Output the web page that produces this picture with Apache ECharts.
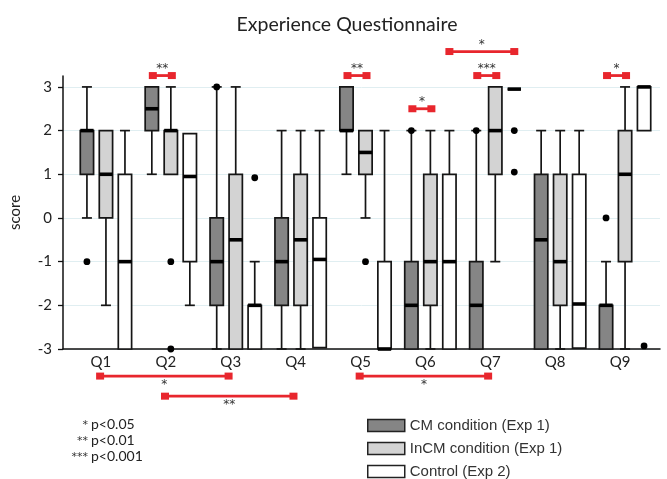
<!DOCTYPE html>
<html><head><meta charset="utf-8">
<script src="https://cdn.jsdelivr.net/npm/echarts@6/dist/echarts.min.js"></script>
<style>html,body{margin:0;padding:0;background:#fff}#c{width:667px;height:479px}</style>
</head><body><div id="c"></div>
<script>
// ---------------- data ----------------
const questions = ['Q1','Q2','Q3','Q4','Q5','Q6','Q7','Q8','Q9'];
const groupNames = ['CM condition (Exp 1)','InCM condition (Exp 1)','Control (Exp 2)'];
// each row: [min, Q1, median, Q3, max]
const cmStats = [
  [0, 1, 2, 2, 3],
  [1, 2, 2.5, 3, 3],
  [-3, -2, -1, 0, 3],
  [-3, -2, -1, 0, 2],
  [1, 2, 2, 3, 3],
  [-3, -3, -2, -1, 2],
  [-3, -3, -2, -1, 2],
  [-3, -3, -0.5, 1, 2],
  [-3, -3, -2, -2, -1]
];
const incmStats = [
  [-2, 0, 1, 2, 2],
  [1, 1, 2, 2, 3],
  [-3, -3, -0.5, 1, 3],
  [-3, -2, -0.5, 1, 2],
  [0, 1, 1.5, 2, 2],
  [-3, -2, -1, 1, 2],
  [-1, 1, 2, 3, 3],
  [-3, -2, -1, 1, 2],
  [-3, -1, 1, 2, 3]
];
const controlStats = [
  [-3, -3, -1, 1, 2],
  [-2, -1, 0.95, 1.93, 1.93],
  [-3, -3, -2, -2, -1],
  [-2.97, -2.97, -0.95, 0, 2],
  [-3, -3, -3, -1, 2],
  [-3, -3, -1, 1, 2],
  [2.95, 2.95, 2.95, 2.95, 2.95],
  [-2.98, -2.98, -1.97, 1, 2],
  [2, 2, 3, 3, 3]
];
// outliers: [question index, value]
const cmOutliers = [[0, -1], [2, 3], [5, 2], [6, 2], [8, 0]];
const incmOutliers = [[1, -1], [1, -3], [4, -1]];
const controlOutliers = [[2, 0.92], [6, 2], [6, 1.05], [8, -2.93]];
// significance: CM vs InCM inside one question: [question index, stars]
const withinTests = [[1, '**'], [4, '**'], [5, '*'], [6, '***'], [8, '*']];
// Control vs Control across questions: [question a, question b, stars]
const controlTests = [[5, 6, '*']];
// CM across questions: [question a, question b, stars]
const acrossTests = [[0, 2, '*'], [1, 3, '**'], [4, 6, '*']];
const yTicks = [-3, -2, -1, 0, 1, 2, 3];
const pStars = ['*', '**', '***'];
const pTexts = ['p<0.05', 'p<0.01', 'p<0.001'];

// ---------------- layout / style ----------------
const Y_MIN = -3, Y_MAX = 3.25;
const GROUP_STEP = 0.293;   // offset between boxes in a group, fraction of band
const BOX_W = 0.205;        // box width, fraction of band
const RED = '#e8262d';
const STAR_COLOR = '#333';
const STAR_FONT = '12px "DejaVu Sans"';
const withinLevel = q => (q === 5 ? 2.5 : 3.26);
const controlLevel = 3.81;
const acrossLevels = [-3.62, -4.08, -3.62];
const FONT = 'Lato';

const fills = ['#858585', '#d3d3d3', '#ffffff'];
const statsList = [cmStats, incmStats, controlStats];
const outList = [cmOutliers, incmOutliers, controlOutliers];

function boxRenderer(k) {
  return function (params, api) {
    const i = api.value(0);
    const band = api.size([1, 0])[0];
    const cx = api.coord([i, 0])[0] + (k - 1) * band * GROUP_STEP;
    const w = band * BOX_W;
    const Y = v => api.coord([i, v])[1];
    const mn = api.value(1), q1 = api.value(2), md = api.value(3), q3 = api.value(4), mx = api.value(5);
    const ls = { stroke: '#151515', lineWidth: 1.7 };
    const ch = [];
    if (mx > q3) {
      ch.push({ type: 'line', shape: { x1: cx, y1: Y(q3), x2: cx, y2: Y(mx) }, style: ls });
      ch.push({ type: 'line', shape: { x1: cx - 5, y1: Y(mx), x2: cx + 5, y2: Y(mx) }, style: ls });
    }
    if (mn < q1) {
      ch.push({ type: 'line', shape: { x1: cx, y1: Y(q1), x2: cx, y2: Y(mn) }, style: ls });
      ch.push({ type: 'line', shape: { x1: cx - 5, y1: Y(mn), x2: cx + 5, y2: Y(mn) }, style: ls });
    }
    ch.push({ type: 'rect', shape: { x: cx - w / 2, y: Y(q3), width: w, height: Y(q1) - Y(q3) },
      style: { fill: fills[k], stroke: '#151515', lineWidth: 1.7 } });
    ch.push({ type: 'line', shape: { x1: cx - w / 2, y1: Y(md), x2: cx + w / 2, y2: Y(md) },
      style: { stroke: '#000', lineWidth: 3.6 } });
    return { type: 'group', children: ch };
  };
}

function bracket(x1, x2, y, stars, below) {
  const ch = [
    { type: 'line', shape: { x1: x1, y1: y, x2: x2, y2: y }, style: { stroke: RED, lineWidth: 2.8 } },
    { type: 'rect', shape: { x: x1 - 4, y: y - 3.5, width: 8, height: 7 }, style: { fill: RED } },
    { type: 'rect', shape: { x: x2 - 4, y: y - 3.5, width: 8, height: 7 }, style: { fill: RED } },
    { type: 'text', x: (x1 + x2) / 2, y: below ? y + 9 : y - 7,
      style: { text: stars, fill: STAR_COLOR, font: STAR_FONT, align: 'center', verticalAlign: 'middle' } }
  ];
  return { type: 'group', children: ch };
}

const series = [];
statsList.forEach((st, k) => {
  series.push({
    type: 'custom', name: groupNames[k], xAxisIndex: 1, yAxisIndex: 1,
    itemStyle: { color: fills[k] },
    data: st.map((s, i) => [i].concat(s)),
    encode: { x: 0, y: [1, 2, 3, 4, 5] },
    renderItem: boxRenderer(k), z: 3
  });
});
// outliers
const outData = [];
outList.forEach((lst, k) => lst.forEach(o => outData.push([o[0], o[1], k])));
series.push({
  type: 'custom', name: 'outliers', xAxisIndex: 1, yAxisIndex: 1, clip: false, z: 4,
  data: outData, encode: { x: 0, y: 1 },
  renderItem: function (params, api) {
    const band = api.size([1, 0])[0];
    const p = api.coord([api.value(0), api.value(1)]);
    return { type: 'circle', shape: { cx: p[0] + (api.value(2) - 1) * band * GROUP_STEP, cy: p[1], r: 3.4 }, style: { fill: '#000' } };
  }
});
// within-question brackets (CM vs InCM)
series.push({
  type: 'custom', name: 'within', xAxisIndex: 1, yAxisIndex: 1, clip: false, z: 5,
  data: withinTests.map(t => [t[0], withinLevel(t[0])]), encode: { x: 0, y: 1 },
  renderItem: function (params, api) {
    const band = api.size([1, 0])[0];
    const p = api.coord([api.value(0), api.value(1)]);
    return bracket(p[0] - band * GROUP_STEP + 1, p[0] + 1, p[1], withinTests[params.dataIndex][1], false);
  }
});
// control across questions (top)
series.push({
  type: 'custom', name: 'controlAcross', xAxisIndex: 1, yAxisIndex: 1, clip: false, z: 5,
  data: controlTests.map(t => [t[0], t[1], controlLevel]), encode: { x: [0, 1], y: 2 },
  renderItem: function (params, api) {
    const band = api.size([1, 0])[0];
    const a = api.coord([api.value(0), api.value(2)]);
    const b = api.coord([api.value(1), api.value(2)]);
    return bracket(a[0] + band * GROUP_STEP, b[0] + band * GROUP_STEP, a[1], controlTests[params.dataIndex][2], false);
  }
});
// across questions (bottom)
series.push({
  type: 'custom', name: 'across', xAxisIndex: 1, yAxisIndex: 1, clip: false, z: 5,
  data: acrossTests.map((t, j) => [t[0], t[1], acrossLevels[j]]), encode: { x: [0, 1], y: 2 },
  renderItem: function (params, api) {
    const band = api.size([1, 0])[0];
    const a = api.coord([api.value(0), api.value(2)]);
    const b = api.coord([api.value(1), api.value(2)]);
    return bracket(a[0] - band * 0.09, b[0] - band * 0.11, a[1], acrossTests[params.dataIndex][2], true);
  }
});

const graphics = [
  { type: 'text', x: 347, y: 25, style: { text: 'Experience Questionnaire', font: '19.5px ' + FONT, fill: '#222', align: 'center', verticalAlign: 'middle' } }
];
pTexts.forEach((t, j) => {
  graphics.push({ type: 'text', x: 88, y: 425 + j * 16, style: { text: pStars[j], font: '11px "DejaVu Sans"', fill: STAR_COLOR, align: 'right', verticalAlign: 'middle' } });
  graphics.push({ type: 'text', x: 91, y: 424 + j * 16, style: { text: t, font: '14px ' + FONT, fill: '#222', align: 'left', verticalAlign: 'middle' } });
});

const chart = echarts.init(document.getElementById('c'), null, { renderer: 'canvas' });
chart.setOption({
  animation: false,
  backgroundColor: '#fff',
  grid: [
    { left: 58, right: 7, top: 76, bottom: 130 },
    { left: 73.5, right: 9.5, top: 76, bottom: 130 }
  ],
  xAxis: [
    { gridIndex: 0, type: 'value', min: 0, max: 1,
      axisLine: { show: true, onZero: false, lineStyle: { color: '#111', width: 1.5 } },
      axisTick: { show: false }, axisLabel: { show: false }, splitLine: { show: false } },
    { gridIndex: 1, type: 'category', data: questions,
      axisLine: { show: false }, axisTick: { show: false }, splitLine: { show: false },
      axisLabel: { margin: 6, fontFamily: FONT, fontSize: 15, color: '#222', padding: [0, 10, 0, 0] } }
  ],
  yAxis: [
    { gridIndex: 0, type: 'value', min: Y_MIN, max: Y_MAX,
      name: 'score', nameLocation: 'middle', nameGap: 40, nameRotate: 90,
      nameTextStyle: { fontFamily: FONT, fontSize: 15, color: '#222' },
      axisLine: { show: true, lineStyle: { color: '#111', width: 1.5 } },
      axisTick: { show: true, length: 5, customValues: yTicks, lineStyle: { color: '#111', width: 1.3 } },
      axisLabel: { margin: 11, fontFamily: FONT, fontSize: 15, color: '#222', customValues: yTicks },
      splitLine: { show: true, lineStyle: { color: '#e0eef1', width: 1 } } },
    { gridIndex: 1, type: 'value', min: Y_MIN, max: Y_MAX, show: false, splitLine: { show: false } }
  ],
  legend: {
    data: groupNames, orient: 'vertical', left: 367, top: 418, icon: 'rect', padding: 0,
    itemWidth: 37, itemHeight: 12, itemGap: 8, selectedMode: false,
    itemStyle: { borderColor: '#222', borderWidth: 1.5 },
    textStyle: { fontFamily: 'Liberation Sans', fontSize: 15, color: '#333', lineHeight: 15 }
  },
  graphic: { elements: graphics },
  series: series
});
</script>
</body></html>
